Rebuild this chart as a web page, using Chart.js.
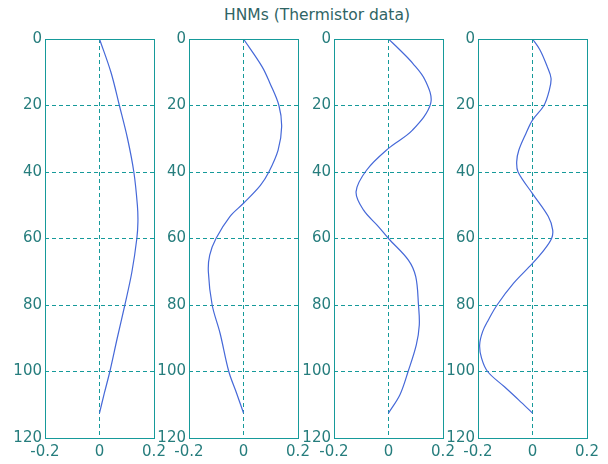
<!DOCTYPE html>
<html>
<head>
<meta charset="utf-8">
<script src="https://cdn.jsdelivr.net/npm/chart.js@4/dist/chart.umd.min.js"></script>
<style>
  html, body { margin: 0; padding: 0; background: #ffffff; }
  #wrap { position: relative; width: 608px; height: 464px; background: #ffffff; overflow: hidden; }
  #title { position: absolute; left: 0; width: 634px; top: 6px; text-align: center;
           font-family: 'DejaVu Sans', sans-serif; font-size: 15.5px; line-height: 18px; color: #2f6464; }
  canvas { position: absolute; top: 0; }
</style>
</head>
<body>
<div id="wrap">
  <div id="title">HNMs (Thermistor data)</div>
  <canvas id="c0"></canvas>
  <canvas id="c1"></canvas>
  <canvas id="c2"></canvas>
  <canvas id="c3"></canvas>
</div>
<script>
// ---- data (depth vs mode amplitude) ----
const titleText = 'HNMs (Thermistor data)';
const yTicks = [0, 20, 40, 60, 80, 100, 120];
const xTicks = [-0.2, 0, 0.2];
const xTickLabels = ['-0.2', '0', '0.2'];

const depth1 = [0, 10, 20, 30, 40, 50, 55, 60, 70, 80, 90, 100, 106.6, 112.5];
const mode1  = [0, 0.042, 0.073, 0.103, 0.126, 0.139, 0.141, 0.137, 0.119, 0.093, 0.065, 0.038, 0.0175, 0];

const depth2 = [0, 8.3, 13.3, 20, 26.4, 33.4, 40, 44, 49.4, 53.4, 60, 65, 70, 80, 88.5, 100, 106.6, 112.5];
const mode2  = [0, 0.068, 0.097, 0.130, 0.140, 0.127, 0.093, 0.062, 0, -0.05, -0.101, -0.124, -0.129, -0.115, -0.086, -0.054, -0.025, 0];

const depth3 = [0, 3.3, 7.3, 12.3, 19.3, 27.4, 32.9, 39.4, 45.9, 51.4, 56.4, 60, 66.5, 71.5, 80, 86, 92, 100, 107, 112.5];
const mode3  = [0, 0.042, 0.089, 0.134, 0.155, 0.088, 0, -0.08, -0.119, -0.092, -0.037, 0, 0.073, 0.10, 0.110, 0.113, 0.102, 0.072, 0.042, 0];

const depth4 = [0, 3.3, 8.3, 11.8, 15.3, 20, 24.4, 28.4, 33.4, 36.9, 40, 46.5, 53.4, 57.4, 60, 63.5, 67.5, 73.5, 80, 84.5, 88, 92, 96, 100, 104.6, 108.6, 112.5];
const mode4  = [0, 0.0275, 0.054, 0.068, 0.062, 0.042, 0, -0.024, -0.05, -0.058, -0.053, 0, 0.058, 0.074, 0.070, 0.042, 0, -0.07, -0.13, -0.162, -0.183, -0.194, -0.187, -0.165, -0.103, -0.05, 0];

const panels = [
  { depth: depth1, mode: mode1 },
  { depth: depth2, mode: mode2 },
  { depth: depth3, mode: mode3 },
  { depth: depth4, mode: mode4 }
];

// ---- layout / style ----
const panelLefts = [45, 189, 334, 478];
const plotW = 109;
const yAxisW = 45;
const rightPad = 22;
const topPad = 39;
const xAxisH = 26;
const H = 464;

const teal = '#169a9a';
const textColor = '#267d7d';
const lineColor = '#4568d8';
const fontSpec = { family: "'DejaVu Sans', sans-serif", size: 15 };

const boxPlugin = {
  id: 'boxPlugin',
  afterDraw(chart) {
    const a = chart.chartArea;
    const ctx = chart.ctx;
    ctx.save();
    ctx.strokeStyle = teal;
    ctx.lineWidth = 1;
    ctx.setLineDash([]);
    ctx.strokeRect(a.left + 0.5, a.top + 0.5, a.right - a.left, a.bottom - a.top);
    ctx.restore();
  }
};

panels.forEach((p, i) => {
  const cv = document.getElementById('c' + i);
  const w = yAxisW + plotW + rightPad;
  cv.width = w; cv.height = H;
  cv.style.width = w + 'px'; cv.style.height = H + 'px';
  cv.style.left = (panelLefts[i] - yAxisW) + 'px';

  const pts = p.depth.map((d, k) => ({ x: p.mode[k], y: d }));

  new Chart(cv.getContext('2d'), {
    type: 'line',
    data: {
      datasets: [{
        data: pts,
        borderColor: lineColor,
        borderWidth: 1.2,
        pointRadius: 0,
        fill: false,
        tension: 0.35
      }]
    },
    options: {
      indexAxis: 'y',
      responsive: false,
      animation: false,
      devicePixelRatio: 1,
      layout: { padding: { top: topPad, right: rightPad, left: 0, bottom: 0 } },
      plugins: { legend: { display: false }, tooltip: { enabled: false }, title: { display: false } },
      scales: {
        x: {
          type: 'linear',
          position: 'bottom',
          min: -0.2, max: 0.2,
          afterBuildTicks: (s) => { s.ticks = xTicks.map(v => ({ value: v })); },
          afterFit: (s) => { s.height = xAxisH; },
          ticks: {
            color: textColor, font: fontSpec, padding: 5, maxRotation: 0, autoSkip: false,
            callback: (v) => { const k = xTicks.indexOf(v); return k >= 0 ? xTickLabels[k] : ''; }
          },
          grid: { color: teal, lineWidth: 1, drawTicks: false },
          border: { display: false, dash: [4, 3] }
        },
        y: {
          type: 'linear',
          position: 'left',
          reverse: true,
          min: 0, max: 120,
          afterBuildTicks: (s) => { s.ticks = yTicks.map(v => ({ value: v })); },
          afterFit: (s) => { s.width = yAxisW; },
          ticks: { color: textColor, font: fontSpec, padding: 3, autoSkip: false },
          grid: { color: teal, lineWidth: 1, drawTicks: false },
          border: { display: false, dash: [4, 3] }
        }
      }
    },
    plugins: [boxPlugin]
  });
});
</script>
</body>
</html>
